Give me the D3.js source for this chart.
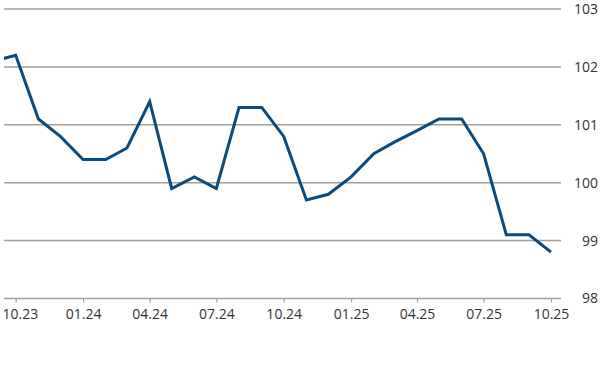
<!DOCTYPE html>
<html>
<head>
<meta charset="utf-8">
<script src="https://cdn.jsdelivr.net/npm/d3@7"></script>
<style>
  body { margin: 0; background: #fff; }
  svg { display: block; }
  text { font-family: "Open Sans", "Noto Sans", sans-serif; }
</style>
</head>
<body>
<svg id="chart" width="600" height="380"></svg>
<script>
const months = ["2023-09","2023-10","2023-11","2023-12","2024-01","2024-02","2024-03","2024-04","2024-05","2024-06","2024-07","2024-08","2024-09","2024-10","2024-11","2024-12","2025-01","2025-02","2025-03","2025-04","2025-05","2025-06","2025-07","2025-08","2025-09","2025-10"];
const values = [102.1,102.2,101.1,100.8,100.4,100.4,100.6,101.4,99.9,100.1,99.9,101.3,101.3,100.8,99.7,99.8,100.1,100.5,100.7,100.9,101.1,101.1,100.5,99.1,99.1,98.8];
const xTicks = ["2023-10","2024-01","2024-04","2024-07","2024-10","2025-01","2025-04","2025-07","2025-10"];
const yTicks = [98,99,100,101,102,103];

const parse = d3.timeParse("%Y-%m");
const fmt = d3.timeFormat("%m.%y");
const data = months.map((m,i) => ({date: parse(m), value: values[i]}));

const svg = d3.select("#chart");
const left = 4, right = 561;
const x = d3.scaleTime().domain([parse("2023-10"), parse("2025-10")]).range([15.7, 551]);
const y = d3.scaleLinear().domain([98,103]).range([298.5, 9]);

const gridColor = "#a39f96";
const textColor = "#333333";

// gridlines
svg.append("g").selectAll("line").data(yTicks.filter(d => d !== 98)).join("line")
  .attr("x1", left).attr("x2", right)
  .attr("y1", d => y(d)).attr("y2", d => y(d))
  .attr("stroke", gridColor).attr("stroke-width", 1.5);

// y labels
svg.append("g").selectAll("text").data(yTicks).join("text")
  .attr("x", 598).attr("y", d => y(d))
  .attr("dy", "0.35em")
  .attr("text-anchor", "end")
  .attr("font-size", 14)
  .attr("fill", textColor)
  .text(d => d);

// x axis
const xAxis = d3.axisBottom(x)
  .tickValues(xTicks.map(parse))
  .tickFormat(fmt)
  .tickSize(4)
  .tickSizeOuter(0)
  .tickPadding(7);
const gx = svg.append("g").attr("transform", `translate(0,${y(98)})`).call(xAxis);
gx.select(".domain").attr("d", `M${left},0H${right}`).attr("stroke", gridColor).attr("stroke-width", 1.5);
gx.selectAll(".tick line").attr("stroke", gridColor).attr("stroke-width", 1.2);
gx.selectAll(".tick text").attr("fill", textColor).attr("font-size", 14)
  .attr("font-family", "'Open Sans', 'Noto Sans', sans-serif");
// keep the first label inside the picture
gx.selectAll(".tick text").filter((d, i) => i === 0)
  .attr("text-anchor", "start").attr("x", 2 - x(parse(xTicks[0])));

// clip
svg.append("clipPath").attr("id", "clip").append("rect")
  .attr("x", left).attr("y", 0).attr("width", right - left).attr("height", 380);

const line = d3.line().x(d => x(d.date)).y(d => y(d.value));
svg.append("path").datum(data)
  .attr("clip-path", "url(#clip)")
  .attr("d", line)
  .attr("fill", "none")
  .attr("stroke", "#0b4a7d")
  .attr("stroke-width", 3)
  .attr("stroke-linejoin", "miter");
</script>
</body>
</html>
